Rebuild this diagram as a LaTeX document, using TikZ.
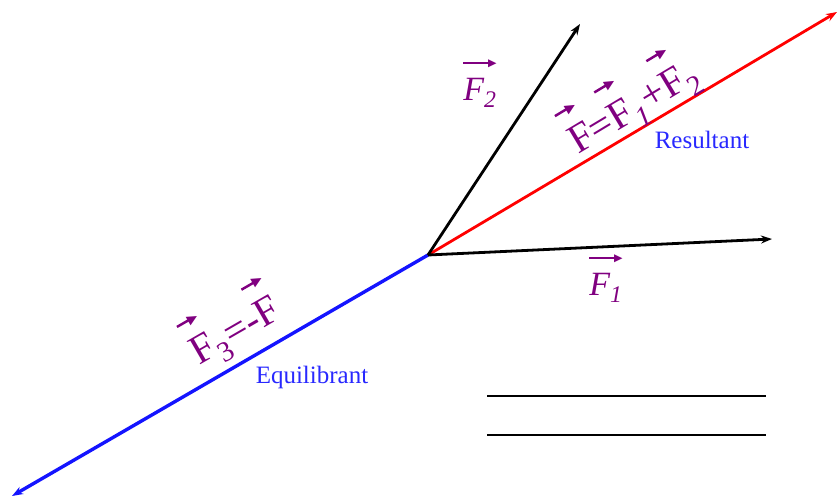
\documentclass[tikz,border=0pt]{standalone}
\usepackage{fontspec}
\setmainfont{Liberation Serif}
\newfontfamily\symfont{DejaVu Sans}
\usetikzlibrary{arrows.meta}
\definecolor{vpurple}{RGB}{128,0,128}
\definecolor{lblue}{RGB}{40,40,255}
\definecolor{vblue}{RGB}{20,20,255}
\newsavebox\Fbx
\newlength\shaftlen
\newcommand{\vA}[1]{\sbox\Fbx{#1}\setlength\shaftlen{\wd\Fbx}\addtolength\shaftlen{-0.2em}%
  \rlap{\raisebox{1.0em}{\rule[0.07em]{\shaftlen}{0.06em}\kern-0.05em\resizebox{0.25em}{0.2em}{\symfont ▶}}}\usebox\Fbx}
\newcommand{\vF}{\vA{F}}
\begin{document}
\begin{tikzpicture}[x=1pt,y=-1pt,
  vec/.style={line width=2.8pt,-{Stealth[length=11pt,width=8pt]}},
  lab/.style={text=vpurple,inner sep=0pt},
  word/.style={text=lblue,font=\fontsize{25}{28}\selectfont,inner sep=0pt},
  rule/.style={line width=1.3pt}]
\useasboundingbox (0,0) rectangle (837,500);
\coordinate (O) at (428,255);
\coordinate (E1) at (772,239);
\coordinate (E2) at (580,24);
\coordinate (ER) at (837,12);
\coordinate (EB) at (12,496);
\draw[vec,vblue,line width=3.4pt] (O) -- (EB);
\draw[vec,red] (O) -- (ER);
\draw[vec] (O) -- (E1);
\draw[vec] (O) -- (E2);
% labels
\node[lab,font=\fontsize{34}{36}\selectfont] (l2) at (480,84) {\vA{\itshape F\textsubscript{2}}};
\node[lab,font=\fontsize{34}{36}\selectfont] (l1) at (606,279) {\vA{\itshape F\textsubscript{1}}};
\node[lab,font=\fontsize{41}{44}\selectfont,rotate=31] (lr) at (630,101) {\vF=\vF\textsubscript{\itshape 1}+\vF\textsubscript{2}};
\node[lab,font=\fontsize{41}{44}\selectfont,rotate=30] (lb) at (232,325) {\vF\textsubscript{3}=-\vF};
\node[word] (res) at (702,140) {Resultant};
\node[word] (equ) at (312,377) {Equilibrant};
% lines
\coordinate (a1) at (487,396);
\coordinate (a2) at (766,396);
\coordinate (b1) at (487,435);
\coordinate (b2) at (766,435);
\draw[rule] (a1) -- (a2);
\draw[rule] (b1) -- (b2);
\end{tikzpicture}
\end{document}
